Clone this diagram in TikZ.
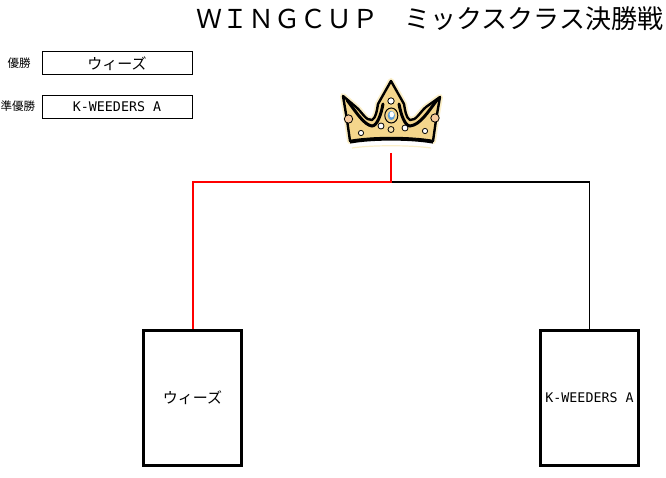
\documentclass[tikz,border=0pt]{standalone}
\usepackage{fontspec}
\newfontfamily\jp{Noto Sans CJK JP}
\newfontfamily\mono{DejaVu Sans Mono}
\definecolor{gold}{HTML}{F4D68C}
\definecolor{halo}{HTML}{FBEFC8}
\definecolor{pearlor}{HTML}{F2A65A}
\definecolor{gemblue}{HTML}{5F9FD8}
\definecolor{linered}{HTML}{FF0000}
\tikzset{
  x=1pt,y=-1pt,
  lbl/.style={font=\jp\fontsize{11.5}{12}\selectfont,inner sep=0pt},
  smallbox/.style={draw,line width=1pt,minimum width=150pt,minimum height=23pt,inner sep=0pt},
  bigbox/.style={draw,line width=3pt,minimum width=98pt,minimum height=135pt,inner sep=0pt},
  jptxt/.style={font=\jp\fontsize{15}{16}\selectfont},
  latxt/.style={font=\mono\fontsize{13.3}{14}\selectfont},
  pearl/.style={fill=white,draw=black,line width=0.8pt},
}
\begin{document}
\begin{tikzpicture}
\useasboundingbox (0,0) rectangle (666,478);
% title
\node[anchor=base west,inner sep=0pt,font=\jp\fontsize{26}{28}\selectfont] (title) at (196.5,29) {ＷＩＮＧＣＵＰ　ミックスクラス決勝戦};
% result labels
\node[lbl] (l1) at (19,63) {優勝};
\node[smallbox,jptxt] (b1) at (117,63.5) {ウィーズ};
\node[lbl] (l2) at (18,106) {準優勝};
\node[smallbox,latxt] (b2) at (117,107) {K-WEEDERS A};
% crown
\def\crownpath{(343,96) -- (356,107) .. controls (362,112) and (366,121) .. (372,120) .. controls (376,118) and (377,110) .. (378,104) -- (391,81) -- (404,104) .. controls (405,110) and (406,118) .. (410,120) .. controls (416,121) and (420,112) .. (426,107) -- (440,97) -- (436,120) -- (433,141) .. controls (410,137) and (372,137) .. (350,141) -- (347,120) -- cycle}
\draw[halo,line width=6pt,line join=round] \crownpath;
\fill[gold] \crownpath;
\draw[black,line width=2.4pt,line join=round] \crownpath;
% inner dark strokes
\draw[black,line width=3pt,line cap=round] (347,100) .. controls (356,112) and (364,125) .. (372,126) .. controls (377,126) and (381,115) .. (383,104);
\draw[black,line width=3pt,line cap=round] (437,100) .. controls (428,112) and (420,125) .. (410,126) .. controls (405,126) and (401,115) .. (399,104);
% band
\fill[white] (350,141) .. controls (372,137) and (410,137) .. (433,141) -- (431,148) .. controls (410,145) and (372,145) .. (352,148) -- cycle;
\draw[black,line width=3.2pt] (350,142) .. controls (372,138) and (410,138) .. (433,142);
\draw[halo,line width=1.2pt] (352,148) .. controls (372,145) and (410,145) .. (431,148);
% jewels
\draw[black,fill=gold,line width=1pt] (391.3,115.5) ellipse (6.5 and 7.5);
\fill[gemblue] (391.3,115.5) ellipse (3.6 and 4.6);
\fill[white] (391.8,114.5) ellipse (2.2 and 3);
\draw[pearl] (391,101) circle (3.2);
\draw[pearl] (381,126) circle (3);
\draw[pearl] (405,128) circle (3);
\draw[black,fill=gold!70!white,line width=0.8pt] (391,129.5) circle (3);
\draw[black,fill=pearlor!60!white,line width=0.8pt] (348.5,119) circle (4.2);
\draw[black,fill=pearlor!60!white,line width=0.8pt] (435,118) circle (4.2);
\draw[pearl] (361,133) circle (2.6);
\draw[pearl] (425,131) circle (2.6);
\coordinate (crownb) at (391,153);
% teams
\node[bigbox,jptxt] (w) at (192.5,397.5) {ウィーズ};
\node[bigbox,latxt] (k) at (589.5,397.5) {K-WEEDERS A};
% bracket
\coordinate (mid) at (391,182);
\draw[black,line width=1.6pt] (mid) -| (k.north);
\draw[linered,line width=2pt] (crownb) -- (mid) -| (w.north);
\end{tikzpicture}
\end{document}
